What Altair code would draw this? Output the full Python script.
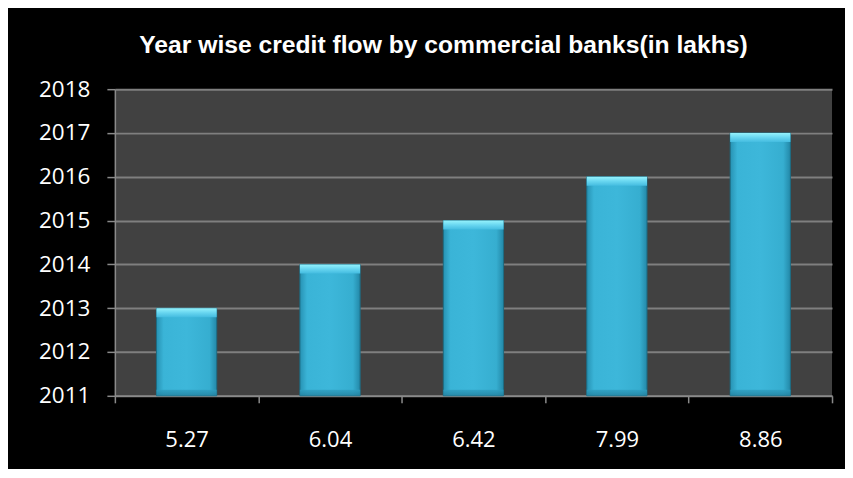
import altair as alt
import pandas as pd

categories = ["5.27", "6.04", "6.42", "7.99", "8.86"]
years = [2013, 2014, 2015, 2016, 2017]
y_ticks = [2011, 2012, 2013, 2014, 2015, 2016, 2017, 2018]

df = pd.DataFrame({"cat": categories, "year": years})

x_enc = alt.X("cat:N", sort=categories, title=None,
              scale=alt.Scale(paddingInner=0, paddingOuter=0),
              axis=alt.Axis(labelAngle=0, tickBand="extent", tickSize=7,
                            tickColor="#8a8a8a", tickWidth=1.5,
                            domainColor="#8a8a8a", domainWidth=1.5,
                            labelColor="white", labelFont="Open Sans",
                            labelFontSize=22, labelPadding=27,
                            minExtent=70, maxExtent=70, grid=False))
y_enc = alt.Y("year:Q", title=None,
              scale=alt.Scale(domain=[2011, 2018], nice=False, zero=False),
              axis=alt.Axis(values=y_ticks, format="d", tickSize=8,
                            tickColor="#8a8a8a", tickWidth=1.5,
                            domainColor="#8a8a8a", domainWidth=1.5,
                            gridColor="#7f7f7f", gridWidth=2,
                            labelColor="white", labelFont="Open Sans",
                            labelFontSize=22.5, labelPadding=17,
                            minExtent=102, maxExtent=102))

bw = alt.RelativeBandSize(0.42)

main = alt.Chart(df).mark_bar(
    width=bw,
    stroke="#1d6c84", strokeWidth=1,
    color=alt.Gradient(
        gradient="linear", x1=0, x2=1, y1=0, y2=0,
        stops=[alt.GradientStop(color="#2792b3", offset=0),
               alt.GradientStop(color="#3ab4d7", offset=0.12),
               alt.GradientStop(color="#3db7da", offset=0.5),
               alt.GradientStop(color="#36aed0", offset=0.88),
               alt.GradientStop(color="#2388a8", offset=1)]),
).encode(x=x_enc, y=y_enc, y2=alt.datum(2011))

cap = alt.Chart(df).mark_bar(
    width=bw, y2Offset=9,
    color=alt.Gradient(
        gradient="linear", x1=0, x2=0, y1=0, y2=1,
        stops=[alt.GradientStop(color="#95f2fc", offset=0),
               alt.GradientStop(color="#68d6f0", offset=0.5),
               alt.GradientStop(color="#44bce0", offset=1)]),
).encode(x=x_enc, y=y_enc, y2=alt.Y2("year:Q"))

base_cap = alt.Chart(df).mark_bar(
    width=bw, yOffset=-6, opacity=0.8,
    color=alt.Gradient(
        gradient="linear", x1=0, x2=0, y1=0, y2=1,
        stops=[alt.GradientStop(color="#2f9ec0", offset=0),
               alt.GradientStop(color="#22809e", offset=1)]),
).encode(x=x_enc, y=alt.datum(2011), y2=alt.datum(2011))

chart = alt.layer(main, cap, base_cap).properties(
    width=718, height=307,
    background="black",
    padding={"left": 5, "right": 12, "top": 24, "bottom": 3},
    title=alt.TitleParams(
        "Year wise credit flow by commercial banks(in lakhs)",
        color="white", font="Liberation Sans", fontWeight="bold",
        fontSize=24.7, anchor="middle", dx=-30, offset=21),
).configure_view(fill="#414141", stroke=None)

chart.save("out.html", embed_options={"renderer": "svg", "actions": False})
